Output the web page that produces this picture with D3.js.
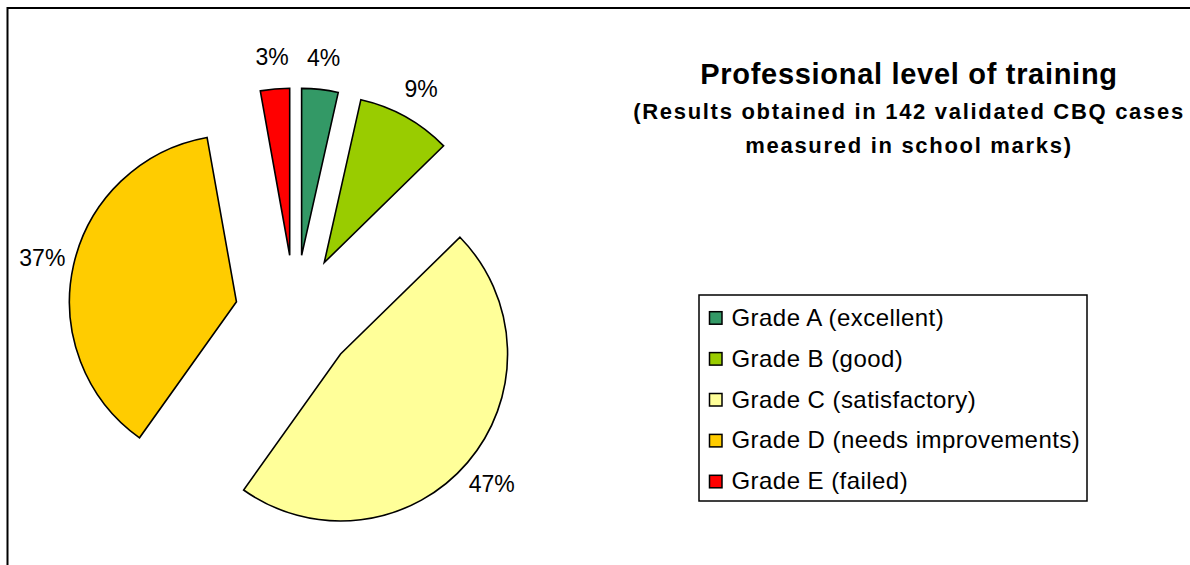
<!DOCTYPE html>
<html>
<head>
<meta charset="utf-8">
<script src="https://cdn.jsdelivr.net/npm/d3@7"></script>
<style>
  html, body { margin: 0; padding: 0; background: #fff; }
  svg { display: block; font-family: "Liberation Sans", Arial, sans-serif; }
</style>
</head>
<body>
<svg id="chart" width="1190" height="565"></svg>
<script>
// ---- data ----
const categories = ["Grade A (excellent)", "Grade B (good)", "Grade C (satisfactory)", "Grade D (needs improvements)", "Grade E (failed)"];
const caseCounts = [5, 13, 67, 53, 4];           // 142 validated cases
const sliceColors = ["#339966", "#99CC00", "#FFFF99", "#FFCC00", "#FF0000"];
const titleText = "Professional level of training";
const subtitleLines = ["(Results obtained in 142 validated CBQ cases", "measured in school marks)"];

const svg = d3.select("#chart");

// outer frame (extends beyond right/bottom edges)
svg.append("rect")
  .attr("x", 7.5).attr("y", 8)
  .attr("width", 1300).attr("height", 700)
  .attr("fill", "none").attr("stroke", "#000").attr("stroke-width", 2);

// ---- pie ----
const cx = 295, cy = 315, radius = 167, explode = 60, labelR = 199;
const total = d3.sum(caseCounts);
const pct = d3.format(".0%");

const pie = d3.pie().sort(null).value(d => d.v);
const arcs = pie(categories.map((c, i) => ({ c, v: caseCounts[i], col: sliceColors[i] })));
const arc = d3.arc().innerRadius(0).outerRadius(radius);
const labelArc = d3.arc().innerRadius(labelR).outerRadius(labelR);

const gPie = svg.append("g").attr("transform", `translate(${cx},${cy})`);

const slice = gPie.selectAll("g.slice").data(arcs).join("g")
  .attr("class", "slice")
  .attr("transform", d => {
    const m = (d.startAngle + d.endAngle) / 2;
    return `translate(${Math.sin(m) * explode},${-Math.cos(m) * explode})`;
  });

slice.append("path")
  .attr("d", arc)
  .attr("fill", d => d.data.col)
  .attr("stroke", "#000")
  .attr("stroke-width", 1.6)
  .attr("stroke-linejoin", "miter");

slice.append("text")
  .attr("transform", d => `translate(${labelArc.centroid(d)})`)
  .attr("text-anchor", "middle")
  .attr("dy", "0.36em")
  .attr("font-size", 23)
  .attr("fill", "#000")
  .text(d => pct(d.data.v / total));

// ---- title ----
const tX = 909;
svg.append("text")
  .attr("x", tX).attr("y", 84)
  .attr("text-anchor", "middle")
  .attr("font-size", 29).attr("font-weight", "bold")
  .attr("letter-spacing", 0.7)
  .text(titleText);

svg.selectAll("text.sub").data(subtitleLines).join("text")
  .attr("class", "sub")
  .attr("x", tX).attr("y", (d, i) => 119 + i * 34)
  .attr("text-anchor", "middle")
  .attr("font-size", 22).attr("font-weight", "bold")
  .attr("letter-spacing", 1.7)
  .text(d => d);

// ---- legend ----
const lg = svg.append("g");
lg.append("rect")
  .attr("x", 699).attr("y", 295)
  .attr("width", 388).attr("height", 206)
  .attr("fill", "#fff").attr("stroke", "#000").attr("stroke-width", 1.5);

const rowY = d3.scalePoint().domain(categories).range([325.7, 489.3]);
const items = lg.selectAll("g.item").data(categories).join("g").attr("class", "item")
  .attr("transform", d => `translate(0,${rowY(d)})`);
items.append("rect")
  .attr("x", 709.5).attr("y", -14)
  .attr("width", 12.5).attr("height", 12.5)
  .attr("fill", (d, i) => sliceColors[i])
  .attr("stroke", "#000").attr("stroke-width", 1.5);
items.append("text")
  .attr("x", 731.5).attr("y", 0)
  .attr("font-size", 24)
  .attr("letter-spacing", 0.45)
  .text(d => d);
</script>
</body>
</html>
